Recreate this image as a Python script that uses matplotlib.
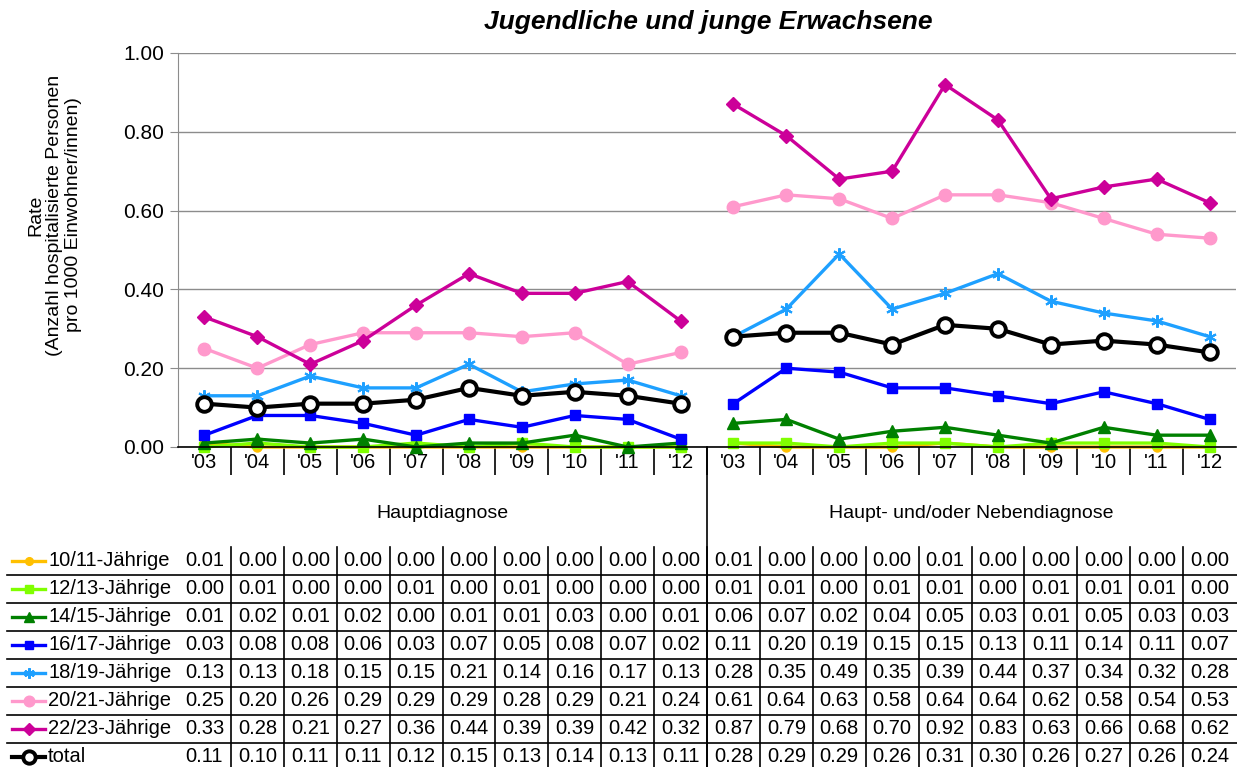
import numpy as np
import matplotlib.pyplot as plt
from matplotlib.transforms import blended_transform_factory

plt.rcParams['font.family'] = ['Liberation Sans', 'DejaVu Sans']

years = ["'03", "'04", "'05", "'06", "'07", "'08", "'09", "'10", "'11", "'12"]
groups = ["Hauptdiagnose", "Haupt- und/oder Nebendiagnose"]
series_names = ["10/11-Jährige", "12/13-Jährige", "14/15-Jährige", "16/17-Jährige",
                "18/19-Jährige", "20/21-Jährige", "22/23-Jährige", "total"]

# first 10 values: Hauptdiagnose, last 10: Haupt- und/oder Nebendiagnose
j10_11 = [0.01, 0.00, 0.00, 0.00, 0.00, 0.00, 0.00, 0.00, 0.00, 0.00,
          0.01, 0.00, 0.00, 0.00, 0.01, 0.00, 0.00, 0.00, 0.00, 0.00]
j12_13 = [0.00, 0.01, 0.00, 0.00, 0.01, 0.00, 0.01, 0.00, 0.00, 0.00,
          0.01, 0.01, 0.00, 0.01, 0.01, 0.00, 0.01, 0.01, 0.01, 0.00]
j14_15 = [0.01, 0.02, 0.01, 0.02, 0.00, 0.01, 0.01, 0.03, 0.00, 0.01,
          0.06, 0.07, 0.02, 0.04, 0.05, 0.03, 0.01, 0.05, 0.03, 0.03]
j16_17 = [0.03, 0.08, 0.08, 0.06, 0.03, 0.07, 0.05, 0.08, 0.07, 0.02,
          0.11, 0.20, 0.19, 0.15, 0.15, 0.13, 0.11, 0.14, 0.11, 0.07]
j18_19 = [0.13, 0.13, 0.18, 0.15, 0.15, 0.21, 0.14, 0.16, 0.17, 0.13,
          0.28, 0.35, 0.49, 0.35, 0.39, 0.44, 0.37, 0.34, 0.32, 0.28]
j20_21 = [0.25, 0.20, 0.26, 0.29, 0.29, 0.29, 0.28, 0.29, 0.21, 0.24,
          0.61, 0.64, 0.63, 0.58, 0.64, 0.64, 0.62, 0.58, 0.54, 0.53]
j22_23 = [0.33, 0.28, 0.21, 0.27, 0.36, 0.44, 0.39, 0.39, 0.42, 0.32,
          0.87, 0.79, 0.68, 0.70, 0.92, 0.83, 0.63, 0.66, 0.68, 0.62]
total = [0.11, 0.10, 0.11, 0.11, 0.12, 0.15, 0.13, 0.14, 0.13, 0.11,
         0.28, 0.29, 0.29, 0.26, 0.31, 0.30, 0.26, 0.27, 0.26, 0.24]

all_series = [j10_11, j12_13, j14_15, j16_17, j18_19, j20_21, j22_23, total]

styles = [
    dict(color='#FFC000', marker='o', ms=6.5, lw=2.4),
    dict(color='#80FF00', marker='s', ms=6.5, lw=2.4),
    dict(color='#008000', marker='^', ms=8.5, lw=2.4),
    dict(color='#0000FF', marker='s', ms=7, lw=2.4),
    dict(color='#1EA0FF', marker=(6, 2, 0), ms=9, lw=2.4, mew=1.5),
    dict(color='#FF99CC', marker='o', ms=9, lw=2.4),
    dict(color='#CC0099', marker='D', ms=7.5, lw=2.4),
    dict(color='black', marker='o', ms=10.5, lw=3, mfc='white', mew=2.8),
]

W, H = 1237, 767
fig = plt.figure(figsize=(W / 100, H / 100), dpi=100)
ax = fig.add_axes([178 / W, 1 - 447 / H, 1058 / W, 394 / H])

n = len(years)
for vals, st in zip(all_series, styles):
    c = st['color']
    for g in range(2):
        xs = np.arange(g * n, (g + 1) * n)
        ax.plot(xs, vals[g * n:(g + 1) * n], color=c, mec=c, mfc=st.get('mfc', c),
                marker=st['marker'], ms=st['ms'], lw=st['lw'],
                mew=st.get('mew', 1), clip_on=False, solid_joinstyle='round')

ax.set_xlim(-0.5, 2 * n - 0.5)
ax.set_ylim(0, 1.0)
ticks = np.arange(0, 1.01, 0.2)
ax.set_yticks(ticks)
ax.set_yticklabels([f'{v:.2f}' for v in ticks], fontsize=15)
ax.yaxis.grid(True, color='#8C8C8C', lw=1)
ax.set_axisbelow(True)
ax.tick_params(axis='y', length=6, color='#8C8C8C', pad=4)

ax.set_xticks(np.arange(2 * n))
ax.set_xticklabels(years * 2, fontsize=14.5)
ax.tick_params(axis='x', which='major', length=0, pad=4)
ax.set_xticks(np.arange(0.5, 2 * n - 1, 1.0), minor=True)
ax.tick_params(axis='x', which='minor', length=20, width=1.2, color='black')

for s in ['top', 'right']:
    ax.spines[s].set_visible(False)
ax.spines['left'].set_color('#8C8C8C')
ax.spines['bottom'].set_color('black')
ax.spines['bottom'].set_linewidth(1.2)

fig.text(708 / W, 1 - 22 / H, 'Jugendliche und junge Erwachsene', ha='center', va='center',
         fontsize=19, fontweight='bold', fontstyle='italic')
fig.text(55 / W, 1 - 215 / H,
         'Rate\n(Anzahl hospitalisierte Personen\npro 1000 Einwohner/innen)',
         rotation=90, ha='center', va='center', fontsize=14, linespacing=1.15)

tr = blended_transform_factory(ax.transData, fig.transFigure)

# group labels and separator
for g, name in enumerate(groups):
    ax.text(g * n + (n - 1) / 2, 1 - 513 / H, name, transform=tr, ha='center', va='center', fontsize=14)
ax.plot([n - 0.5, n - 0.5], [1 - 447 / H, 0], transform=tr, color='black', lw=1.2, clip_on=False)

# data table
row_y = [1 - (561 + 28 * i) / H for i in range(len(series_names))]
for i, (name, vals, st) in enumerate(zip(series_names, all_series, styles)):
    y = row_y[i]
    fig.add_artist(plt.Line2D([12 / W, 45 / W], [y, y], color=st['color'], lw=st['lw']))
    fig.add_artist(plt.Line2D([28.5 / W], [y], color=st['color'], marker=st['marker'],
                              ms=st['ms'] * 0.85, mec=st['color'], mew=st.get('mew', 1),
                              mfc=st.get('mfc', st['color']), lw=0))
    fig.text(48 / W, y, name, ha='left', va='center', fontsize=14.5)
    for k, v in enumerate(vals):
        ax.text(k, y, f'{v:.2f}', transform=tr, ha='center', va='center', fontsize=14.5)

for i in range(len(series_names) - 1):
    yl = 1 - (575 + 28 * i) / H
    fig.add_artist(plt.Line2D([7 / W, 1], [yl, yl], color='black', lw=1.2))
for k in range(2 * n - 1):
    ax.plot([k + 0.5, k + 0.5], [1 - 547 / H, 0], transform=tr, color='black', lw=1.2, clip_on=False)

fig.savefig('out.png', dpi=100)
